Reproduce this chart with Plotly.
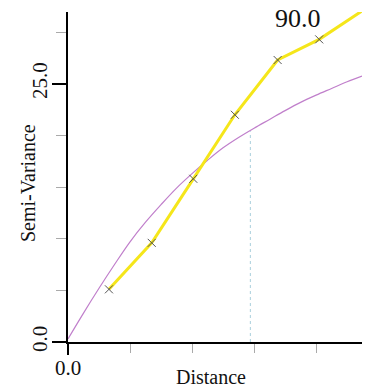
import plotly.graph_objects as go

# Experimental semivariogram (lag distance, semi-variance)
lag_dist = [0.66, 1.35, 2.02, 2.69, 3.38, 4.05, 4.74]
semivar = [5.1, 9.6, 15.8, 22.0, 27.3, 29.3, 32.05]

# Fitted model curve
model_dist = [0.0, 0.25, 0.5, 0.75, 1.0, 1.25, 1.5, 1.75, 2.0, 2.25, 2.5,
              2.75, 3.0, 3.25, 3.5, 3.75, 4.0, 4.25, 4.5, 4.74]
model_var = [0.3, 2.8, 5.2, 7.5, 9.7, 11.6, 13.3, 14.9, 16.3, 17.6, 18.8,
             19.8, 20.7, 21.55, 22.4, 23.2, 23.9, 24.55, 25.2, 25.75]

# Range marker
range_dist = [2.94, 2.94]
range_var = [0.0, 20.4]

direction_label = "90.0"
x_tick_vals = [0.0]
x_tick_text = ["0.0"]
y_tick_vals = [0.0, 25.0]
y_tick_text = ["0.0", "25.0"]

serif = "Liberation Serif, Times New Roman, serif"

fig = go.Figure()
fig.add_trace(go.Scatter(x=range_dist, y=range_var, mode="lines",
                         line=dict(color="#A9CFDC", width=1, dash="dot"),
                         hoverinfo="skip", showlegend=False))
fig.add_trace(go.Scatter(x=model_dist, y=model_var, mode="lines",
                         line=dict(color="#C07FCB", width=1.2, shape="spline", smoothing=1),
                         showlegend=False))
fig.add_trace(go.Scatter(x=lag_dist, y=semivar, mode="lines+markers",
                         line=dict(color="#F5E61A", width=3),
                         marker=dict(symbol="x-thin", size=8,
                                     line=dict(color="#555555", width=1)),
                         cliponaxis=False, showlegend=False))

W, H = 370, 390
L, R, T, B = 68, 8, 12, 48
pw, ph = W - L - R, H - T - B

def px(xp):
    return (xp - L) / pw

def py(yp):
    return (H - B - yp) / ph

fig.update_layout(
    width=W, height=H,
    margin=dict(l=L, r=R, t=T, b=B, autoexpand=False),
    paper_bgcolor="white", plot_bgcolor="white",
    xaxis=dict(range=[0, 4.74], showgrid=False, zeroline=False, automargin=False,
               showline=True, linecolor="black", linewidth=2,
               tickmode="array", tickvals=x_tick_vals, ticktext=x_tick_text,
               ticks="outside", ticklen=11, tickwidth=2, tickcolor="black",
               ticklabelstandoff=-5,
               tickfont=dict(family=serif, size=21, color="#111"),
               minor=dict(dtick=1, tick0=0, ticks="outside", ticklen=9,
                          tickwidth=1, tickcolor="#AAAAAA", showgrid=False)),
    yaxis=dict(range=[0, 31.95], showgrid=False, zeroline=False, automargin=False,
               showline=True, linecolor="black", linewidth=2,
               tickmode="array", tickvals=y_tick_vals, ticktext=y_tick_text,
               ticks="outside", ticklen=14, tickwidth=2, tickcolor="black",
               tickangle=-90, ticklabelstandoff=-3,
               tickfont=dict(family=serif, size=21, color="#111"),
               minor=dict(dtick=5, tick0=0, ticks="outside", ticklen=10,
                          tickwidth=1, tickcolor="#AAAAAA", showgrid=False)),
    annotations=[
        dict(text="Semi-Variance", xref="paper", yref="paper",
             x=px(27.5), y=py(183.5), xanchor="center", yanchor="middle",
             showarrow=False, textangle=-90,
             font=dict(family=serif, size=20, color="#111")),
        dict(text="Distance", xref="paper", yref="paper",
             x=px(211), y=py(377), xanchor="center", yanchor="middle",
             showarrow=False,
             font=dict(family=serif, size=20, color="#111")),
        dict(text=direction_label, xref="paper", yref="paper",
             x=px(298), y=py(18), xanchor="center", yanchor="middle",
             showarrow=False,
             font=dict(family=serif, size=26, color="#111")),
    ],
)

fig.write_html("out.html", config={"displayModeBar": False},
               post_script="document.body.style.margin='0';document.body.style.overflow='hidden';")
